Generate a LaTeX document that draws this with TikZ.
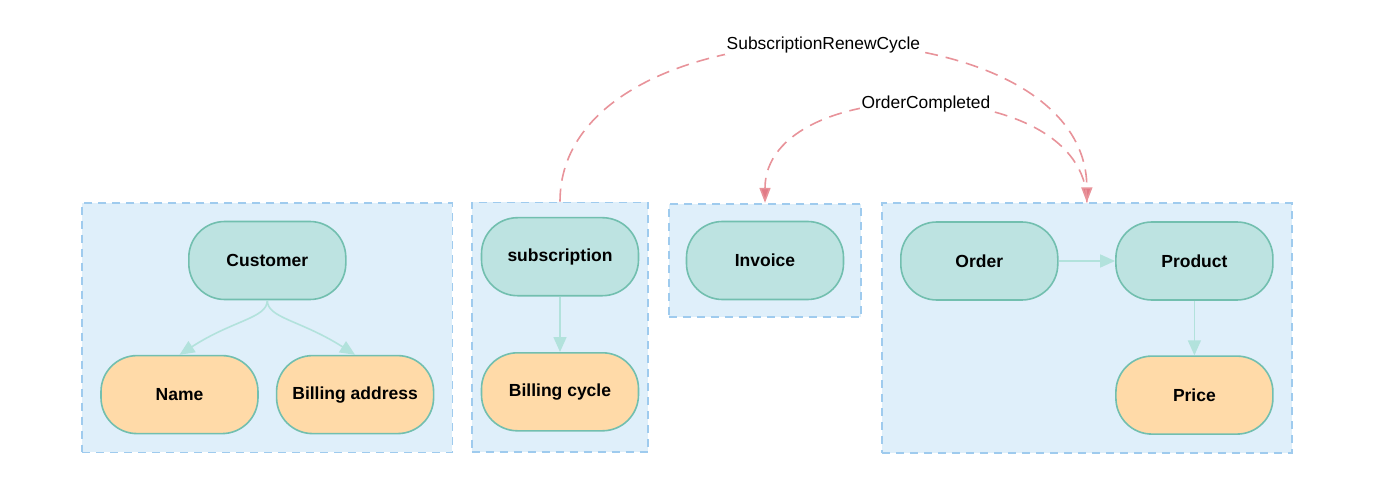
\documentclass[tikz,border=0pt]{standalone}
\usepackage{fontspec}
\setmainfont{Liberation Sans}
\usepackage{xcolor}
\usepackage{tikz}
\usetikzlibrary{positioning, fit, backgrounds, arrows.meta}

\definecolor{ctxfill}{HTML}{DFEFFA}
\definecolor{ctxline}{HTML}{9FCBEE}
\definecolor{entfill}{HTML}{BDE3E1}
\definecolor{entline}{HTML}{72BFAF}
\definecolor{valfill}{HTML}{FFDAA8}
\definecolor{linkcol}{HTML}{B2E2DC}
\definecolor{eventcol}{HTML}{E8939A}
\definecolor{eventtip}{HTML}{E27A86}

\begin{document}
\begin{tikzpicture}[
		x=1pt, y=-1pt,
		node distance=55.5pt,
		% Styles
		entity/.style={rectangle, draw=entline, line width=1.6pt, fill=entfill, rounded corners=36pt, minimum width=157pt, minimum height=78pt, font=\fontsize{17.5}{20}\selectfont\bfseries, text centered},
		valueobj/.style={entity, fill=valfill},
		context/.style={rectangle, draw=ctxline, fill=ctxfill, line width=1.7pt, dash pattern=on 8pt off 6pt, inner sep=18pt},
		link/.style={draw=linkcol, line width=1.6pt, -{Triangle[width=13pt,length=15pt]}},
		event/.style={draw=eventcol, line width=1.6pt, dash pattern=on 13pt off 8pt, -{Triangle[width=11pt,length=15pt,fill=eventtip]}},
		eventlabel/.style={fill=white, inner sep=2pt, font=\fontsize{17.4}{20}\selectfont}
	]
	\useasboundingbox (0,0) rectangle (1374,497);

	% --- Customer context ---
	\node[entity] (customer) at (267.3,260.5) {Customer};
	\node[valueobj] (name) [below left=54.5pt and 8.5pt of customer.south] {Name};
	\node[valueobj] (billing_address) [below right=54.5pt and 8.5pt of customer.south] {Billing address};

	% --- Subscription context ---
	\node[entity] (subscription) at (560,256.7) {subscription};
	\node[valueobj] (billing_cycle) [below=of subscription] {Billing cycle};

	% --- Invoice context ---
	\node[entity] (invoice) at (765,260.5) {Invoice};

	% --- Order context ---
	\node[entity] (order) at (979.3,261) {Order};
	\node[entity] (product) [right=56.5pt of order] {Product};
	\node[valueobj] (price) [below=54.5pt of product] {Price};

	% --- Bounded contexts ---
	\begin{scope}[on background layer]
		\node[context, fit=(customer)(name)(billing_address)] (customer_ctx) {};
		\node[context, fit=(subscription)(billing_cycle), inner xsep=9pt, inner ysep=17.5pt, yshift=-3pt] (subscription_ctx) {};
		\node[context, fit=(invoice), inner sep=17pt] (invoice_ctx) {};
		\node[context, fit=(order)(product)(price)] (order_ctx) {};
	\end{scope}

	% --- ARROWS ---
	% Inside the contexts
	\draw[link] (customer.south) .. controls +(0,18) and +(54,-35) .. (name.north);
	\draw[link] (customer.south) .. controls +(0,18) and +(-55,-35) .. (billing_address.north);
	\draw[link] (subscription) -- (billing_cycle);
	\draw[link] (order) -- (product);
	\draw[link] (product) -- (price);

	% Domain events
	\draw[event] (subscription_ctx.north) .. controls +(0,-209) and +(0,-209) .. (order_ctx.north)
		node[eventlabel, pos=0.5] {SubscriptionRenewCycle};
	\draw[event] (order_ctx.north) .. controls +(0,-131) and +(0,-131) .. (invoice_ctx.north)
		node[eventlabel, pos=0.5] {OrderCompleted};

\end{tikzpicture}
\end{document}
